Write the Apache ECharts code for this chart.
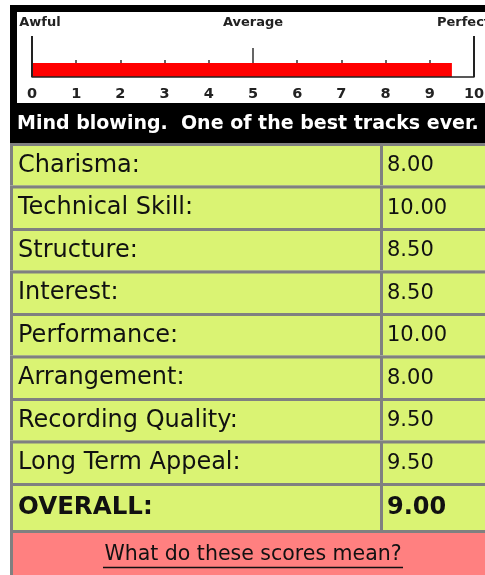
<!DOCTYPE html>
<html>
<head>
<meta charset="utf-8">
<script src="https://cdn.jsdelivr.net/npm/echarts@6/dist/echarts.min.js"></script>
<style>
html,body{margin:0;padding:0;background:#fff;}
#chart{width:485px;height:575px;}
</style>
</head>
<body>
<div id="chart"></div>
<script>
// ---- data ----
const scaleLabels = ['Awful', 'Average', 'Perfect'];   // at 0, 5, 10
const score = 9.5;                                      // gauge bar value
const caption = 'Mind blowing.  One of the best tracks ever.';
const categories = ['Charisma:', 'Technical Skill:', 'Structure:', 'Interest:',
  'Performance:', 'Arrangement:', 'Recording Quality:', 'Long Term Appeal:'];
const values = [8.00, 10.00, 8.50, 8.50, 10.00, 8.00, 9.50, 9.50];
const overallLabel = ['OVERALL:'];
const overallValue = [9.00];
const linkText = 'What do these scores mean?';

// ---- styles ----
const GREEN = '#daf373';
const GRAY = '#808080';
const PINK = '#ff8080';
const INK = '#111';
const DIV = 370; // divider offset inside table grid

function tableRenderer(bold, fs, vfs) {
  return function (params, api) {
    const row = api.value(0);
    const val = api.value(1);
    const cs = params.coordSys;
    const yc = api.coord([0, row])[1];
    const h = api.size([0, 1])[1];
    const top = yc - h / 2;
    const bottom = yc + h / 2;
    const midY = (top + 3 + bottom) / 2;
    const label = (bold ? overallLabel : categories)[row];
    return {
      type: 'group',
      children: [
        { type: 'rect', shape: { x: cs.x, y: top, width: cs.width, height: h }, style: { fill: GRAY } },
        { type: 'rect', shape: { x: cs.x + 3, y: top + 3, width: DIV - 3, height: bottom - top - 3 }, style: { fill: GREEN } },
        { type: 'rect', shape: { x: cs.x + DIV + 3, y: top + 3, width: cs.width - DIV - 3, height: bottom - top - 3 }, style: { fill: GREEN } },
        { type: 'text', x: cs.x + 8, y: midY, style: { text: label, fill: INK, font: (bold ? 'bold ' : '') + fs + 'px "DejaVu Sans"', textVerticalAlign: 'middle', textAlign: 'left' } },
        { type: 'text', x: cs.x + DIV + 7, y: midY, style: { text: val.toFixed(2), fill: INK, font: (bold ? 'bold ' : '') + vfs + 'px "DejaVu Sans"', textVerticalAlign: 'middle', textAlign: 'left' } }
      ]
    };
  };
}

const chart = echarts.init(document.getElementById('chart'), null, { renderer: 'canvas' });
const gaugeL = 32, gaugeW = 442;

chart.setOption({
  animation: false,
  backgroundColor: '#fff',
  title: {
    text: caption, left: 17, top: 114, padding: 0,
    textStyle: { color: '#fff', fontFamily: 'DejaVu Sans', fontWeight: 'bold', fontSize: 19, lineHeight: 20 }
  },
  grid: [
    { left: gaugeL, width: gaugeW, top: 63, height: 14, outerBoundsMode: 'none' },   // 0 bar
    { left: gaugeL, width: gaugeW, top: 48, height: 29, outerBoundsMode: 'none' },   // 1 ticks at 0/5/10
    { left: gaugeL, width: gaugeW, top: 36, height: 41, outerBoundsMode: 'none' },   // 2 end lines + top labels
    { left: 10, right: 0, top: 143, height: 340, outerBoundsMode: 'none' },          // 3 table rows
    { left: 10, right: 0, top: 483, height: 47, outerBoundsMode: 'none' }            // 4 overall row
  ],
  xAxis: [
    { gridIndex: 0, type: 'value', min: 0, max: 10, interval: 1, z: 1,
      axisLine: { show: false }, splitLine: { show: false },
      axisTick: { show: true, inside: true, length: 17, lineStyle: { color: '#333', width: 1.5 } },
      axisLabel: { show: true, margin: 10, color: '#222', fontFamily: 'DejaVu Sans', fontWeight: 'bold', fontSize: 14.5 } },
    { gridIndex: 1, type: 'value', min: 0, max: 10, interval: 5, z: 1,
      axisLine: { show: false }, splitLine: { show: false }, axisLabel: { show: false },
      axisTick: { show: true, inside: true, length: 29, lineStyle: { color: '#333', width: 1.5 } } },
    { gridIndex: 2, type: 'value', min: 0, max: 10, interval: 10, z: 5,
      axisLine: { show: true, lineStyle: { color: '#222', width: 1.5 } }, splitLine: { show: false }, axisLabel: { show: false },
      axisTick: { show: true, inside: true, length: 41, lineStyle: { color: '#222', width: 2 } } },
    { gridIndex: 2, type: 'value', position: 'top', min: 0, max: 10, interval: 5, z: 1,
      axisLine: { show: false }, axisTick: { show: false }, splitLine: { show: false },
      axisLabel: { show: true, margin: 7, color: '#222',
        formatter: function (v) { const t = scaleLabels[Math.round(v / 5)]; return v === 0 ? '{l|' + t + '}' : v === 10 ? '{r|' + t + '}' : '{m|' + t + '}'; },
        rich: {
          l: { fontFamily: 'DejaVu Sans', fontWeight: 'bold', fontSize: 13, color: '#222', padding: [0, 0, 0, 16] },
          m: { fontFamily: 'DejaVu Sans', fontWeight: 'bold', fontSize: 13, color: '#222' },
          r: { fontFamily: 'DejaVu Sans', fontWeight: 'bold', fontSize: 13, color: '#222', padding: [0, 21, 0, 0] }
        } } },
    { gridIndex: 3, type: 'value', min: 0, max: 1, show: false },
    { gridIndex: 4, type: 'value', min: 0, max: 1, show: false }
  ],
  yAxis: [
    { gridIndex: 0, type: 'category', data: ['score'], show: false },
    { gridIndex: 1, type: 'value', show: false },
    { gridIndex: 2, type: 'value', show: false },
    { gridIndex: 3, type: 'category', data: categories, inverse: true, show: false },
    { gridIndex: 4, type: 'category', data: overallLabel, inverse: true, show: false }
  ],
  series: [
    { type: 'bar', xAxisIndex: 0, yAxisIndex: 0, data: [score], barWidth: 14, z: 2,
      itemStyle: { color: '#ff0000' } },
    { type: 'custom', xAxisIndex: 4, yAxisIndex: 3, z: 2,
      data: values.map((v, i) => [i, v]), encode: { y: 0 },
      renderItem: tableRenderer(false, 24, 21) },
    { type: 'custom', xAxisIndex: 5, yAxisIndex: 4, z: 2,
      data: overallValue.map((v, i) => [i, v]), encode: { y: 0 },
      renderItem: tableRenderer(true, 24.5, 24) }
  ],
  graphic: [
    { type: 'rect', z: -1, shape: { x: 10, y: 5, width: 475, height: 138 }, style: { fill: '#000' } },
    { type: 'rect', z: -1, shape: { x: 17, y: 12, width: 468, height: 91 }, style: { fill: '#fff' } },
    { type: 'rect', shape: { x: 10, y: 530, width: 475, height: 45 }, style: { fill: GRAY } },
    { type: 'rect', shape: { x: 13, y: 533, width: 472, height: 42 }, style: { fill: PINK } },
    { type: 'text', x: 253, y: 565, style: { text: linkText, fill: INK, font: '20.5px "DejaVu Sans"', textAlign: 'center', textVerticalAlign: 'bottom' } },
    { type: 'line', shape: { x1: 103, y1: 567.5, x2: 403, y2: 567.5 }, style: { stroke: INK, lineWidth: 1.5 } }
  ]
});
</script>
</body>
</html>
